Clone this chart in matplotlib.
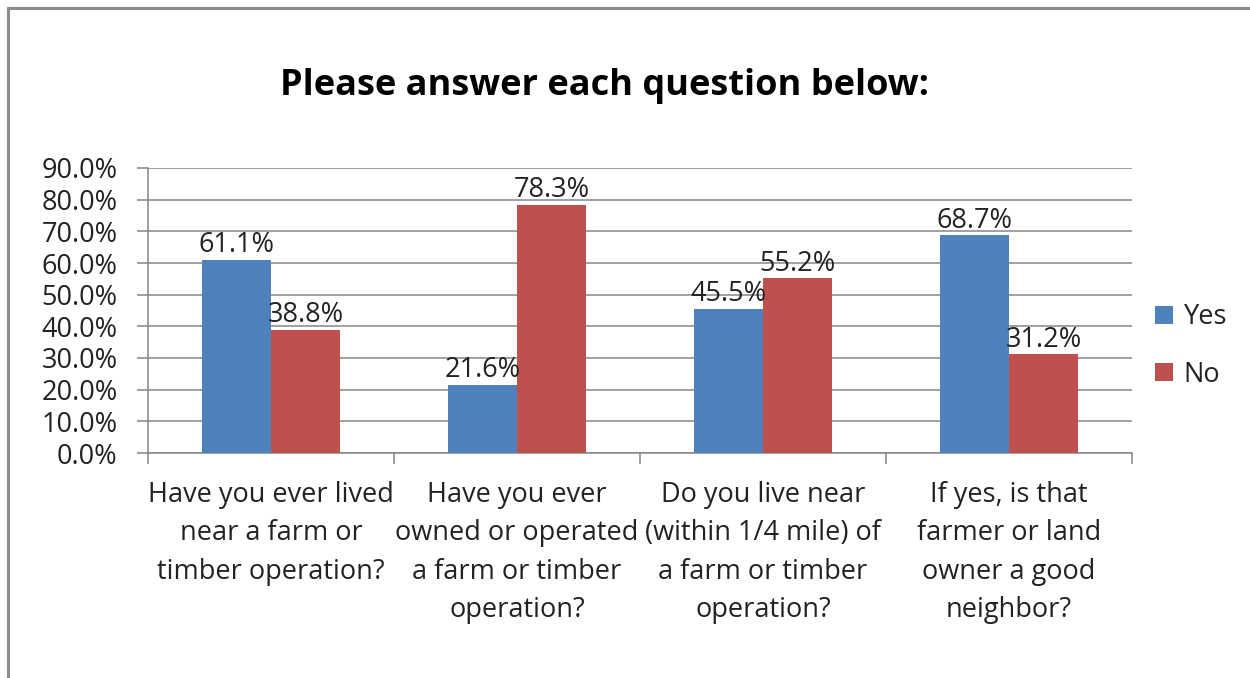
import matplotlib
matplotlib.use("Agg")
import matplotlib.pyplot as plt
from matplotlib.patches import Rectangle
import numpy as np

categories = [
    "Have you ever lived\nnear a farm or\ntimber operation?",
    "Have you ever\nowned or operated\na farm or timber\noperation?",
    "Do you live near\n(within 1/4 mile) of\na farm or timber\noperation?",
    "If yes, is that\nfarmer or land\nowner a good\nneighbor?",
]
yes_values = [61.1, 21.6, 45.5, 68.7]
no_values = [38.8, 78.3, 55.2, 31.2]
series_names = ["Yes", "No"]
y_ticks = [0, 10, 20, 30, 40, 50, 60, 70, 80, 90]

plt.rcParams['font.family'] = ['Open Sans', 'DejaVu Sans']

W, H = 1250, 678
fig = plt.figure(figsize=(W / 100, H / 100), dpi=100)
fig.patch.set_facecolor("white")

# Outer chart border (only left/top visible)
fig.add_artist(Rectangle((8 / W, -0.1), 1.2, (H - 8) / H + 0.1, transform=fig.transFigure,
                         fill=False, edgecolor="#8c8c8c", linewidth=2.2, zorder=0))

ax = fig.add_axes([148 / W, 1 - 453 / H, (1132 - 148) / W, (453 - 168) / H])

gray = "#868686"
blue = "#4F81BD"
red = "#C0504D"
txt = "#222222"
x = np.arange(len(categories))
bw = 0.28

b1 = ax.bar(x - bw / 2, yes_values, bw, color=blue, label=series_names[0], zorder=3)
b2 = ax.bar(x + bw / 2, no_values, bw, color=red, label=series_names[1], zorder=3)

fs = 19.5
for bars, vals in ((b1, yes_values), (b2, no_values)):
    for rect, v in zip(bars, vals):
        ax.text(rect.get_x() + rect.get_width() / 2, v + 0.2, f"{v:.1f}%",
                ha="center", va="bottom", fontsize=fs, color=txt, zorder=4)

ax.set_xlim(-0.5, len(categories) - 0.5)
ax.set_ylim(0, 90)
ax.set_yticks(y_ticks)
ax.set_yticklabels([f"{t:.1f}%" for t in y_ticks], fontsize=fs, color=txt)
ax.yaxis.grid(True, color=gray, linewidth=1.1, zorder=0)
ax.set_axisbelow(True)

ax.set_xticks(x)
ax.set_xticklabels(categories, fontsize=fs, color=txt, linespacing=1.5, va="top")
ax.tick_params(axis="x", which="major", length=0, pad=20)
ax.set_xticks(np.arange(-0.5, len(categories), 1.0), minor=True)
ax.tick_params(axis="x", which="minor", length=8, width=1.1, color=gray, direction="out")
ax.tick_params(axis="y", length=8, width=1.1, color=gray, direction="out", pad=14)

for s in ("top", "right"):
    ax.spines[s].set_visible(False)
for s in ("left", "bottom"):
    ax.spines[s].set_color(gray)
    ax.spines[s].set_linewidth(1.1)

fig.text(604 / W, 1 - 86 / H, "Please answer each question below:", ha="center", va="center",
         fontsize=26, fontweight="bold", color="black")

leg = ax.legend(loc="center left", bbox_to_anchor=(1.01, 0.375), frameon=False,
                fontsize=fs, handlelength=0.65, handleheight=0.65, handletextpad=0.4,
                labelspacing=1.08, borderpad=0)
for t in leg.get_texts():
    t.set_color(txt)

fig.savefig("out.png", dpi=100)
